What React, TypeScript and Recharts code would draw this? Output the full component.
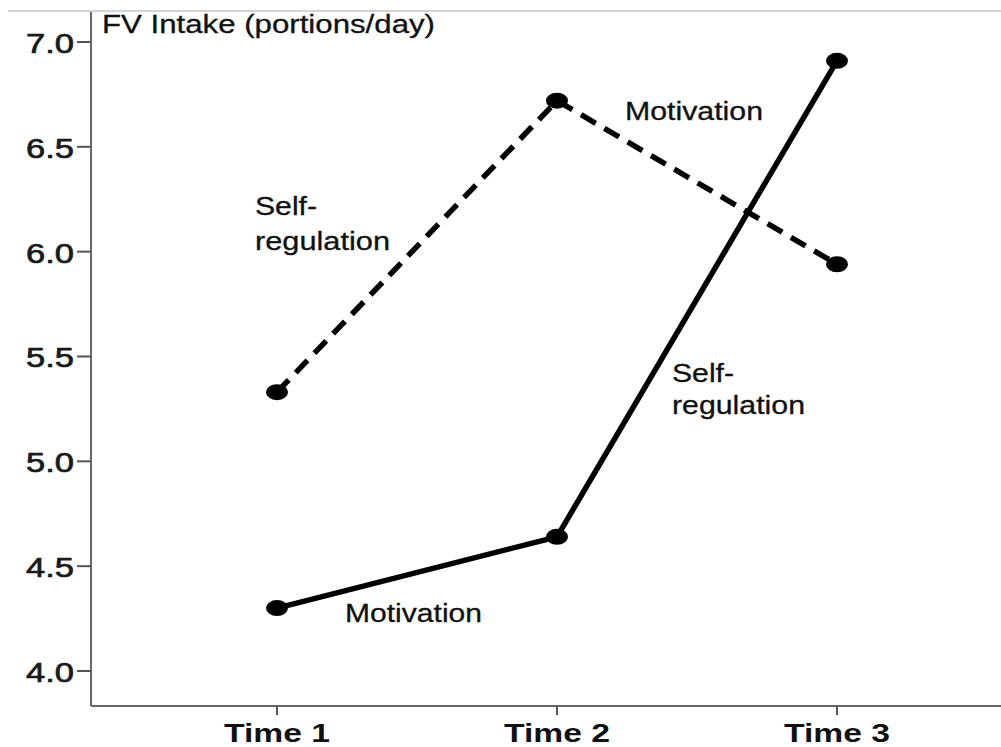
import { LineChart, Line, XAxis, YAxis } from "recharts";

const times = ["Time 1", "Time 2", "Time 3"];
// solid line: motivation phase first, then self-regulation
const motivationFirst = [4.3, 4.64, 6.91];
// dashed line: self-regulation phase first, then motivation
const selfRegFirst = [5.33, 6.72, 5.94];
const yTicks = [4.0, 4.5, 5.0, 5.5, 6.0, 6.5, 7.0];

const chartData = times.map((t, i) => ({
  time: t,
  motivationFirst: motivationFirst[i],
  selfRegFirst: selfRegFirst[i],
}));

const FONT = '"Liberation Sans", Arial, sans-serif';

const notes = [
  { text: "FV Intake  (portions/day)", x: 102, y: 33, w: 333 },
  { text: "Self-", x: 255, y: 215, w: 62 },
  { text: "regulation", x: 255, y: 250, w: 135 },
  { text: "Motivation", x: 625, y: 120, w: 138 },
  { text: "Self-", x: 672, y: 382, w: 62 },
  { text: "regulation", x: 672, y: 414, w: 133 },
  { text: "Motivation", x: 345, y: 622, w: 137 },
];

function Dot(props: any) {
  const { cx, cy } = props;
  if (cx == null || cy == null) return null;
  return <ellipse cx={cx} cy={cy} rx={11} ry={8} fill="#000" />;
}

function YTick(props: any) {
  const { x, y, payload } = props;
  return (
    <text
      x={x - 1}
      y={y + 11}
      textAnchor="end"
      fontFamily={FONT}
      fontSize={27}
      fill="#1a1a1a"
      stroke="#1a1a1a"
      strokeWidth={0.7}
      textLength={48}
      lengthAdjust="spacingAndGlyphs"
    >
      {Number(payload.value).toFixed(1)}
    </text>
  );
}

function XTick(props: any) {
  const { x, payload } = props;
  return (
    <text
      x={x}
      y={742}
      textAnchor="middle"
      fontFamily={FONT}
      fontSize={26}
      fontWeight="bold"
      fill="#111"
      textLength={106}
      lengthAdjust="spacingAndGlyphs"
    >
      {payload.value}
    </text>
  );
}

export default function App() {
  return (
    <div style={{ position: "absolute", left: 0, top: 0, width: 1001, height: 747, background: "#fff", overflow: "hidden" }}>
      <LineChart
        width={1001}
        height={747}
        data={chartData}
        margin={{ top: 12, right: -4, bottom: 0, left: 0 }}
      >
        <XAxis
          dataKey="time"
          scale="point"
          padding={{ left: 186, right: 168 }}
          height={41}
          tickSize={9}
          tick={<XTick />}
          axisLine={{ stroke: "#666", strokeWidth: 2 }}
          tickLine={{ stroke: "#555", strokeWidth: 2 }}
        />
        <YAxis
          width={91}
          type="number"
          domain={[3.833, 7.143]}
          ticks={yTicks}
          allowDataOverflow
          tickSize={14}
          tick={<YTick />}
          axisLine={{ stroke: "#666", strokeWidth: 2 }}
          tickLine={{ stroke: "#555", strokeWidth: 2 }}
        />
        <Line
          dataKey="selfRegFirst"
          stroke="#000"
          strokeWidth={5.5}
          strokeDasharray="17 10"
          dot={<Dot />}
          activeDot={false}
          isAnimationActive={false}
        />
        <Line
          dataKey="motivationFirst"
          stroke="#000"
          strokeWidth={5.5}
          dot={<Dot />}
          activeDot={false}
          isAnimationActive={false}
        />
      </LineChart>
      <svg
        width={1001}
        height={747}
        style={{ position: "absolute", left: 0, top: 0, pointerEvents: "none" }}
      >
        <line x1={8} x2={1001} y1={11} y2={11} stroke="#c4c4c4" strokeWidth={1.5} />
        {notes.map((n, i) => (
          <text
            key={i}
            x={n.x}
            y={n.y}
            fontFamily={FONT}
            fontSize={25}
            fill="#111"
            stroke="#111"
            strokeWidth={0.3}
            textLength={n.w}
            lengthAdjust="spacingAndGlyphs"
          >
            {n.text}
          </text>
        ))}
      </svg>
    </div>
  );
}
